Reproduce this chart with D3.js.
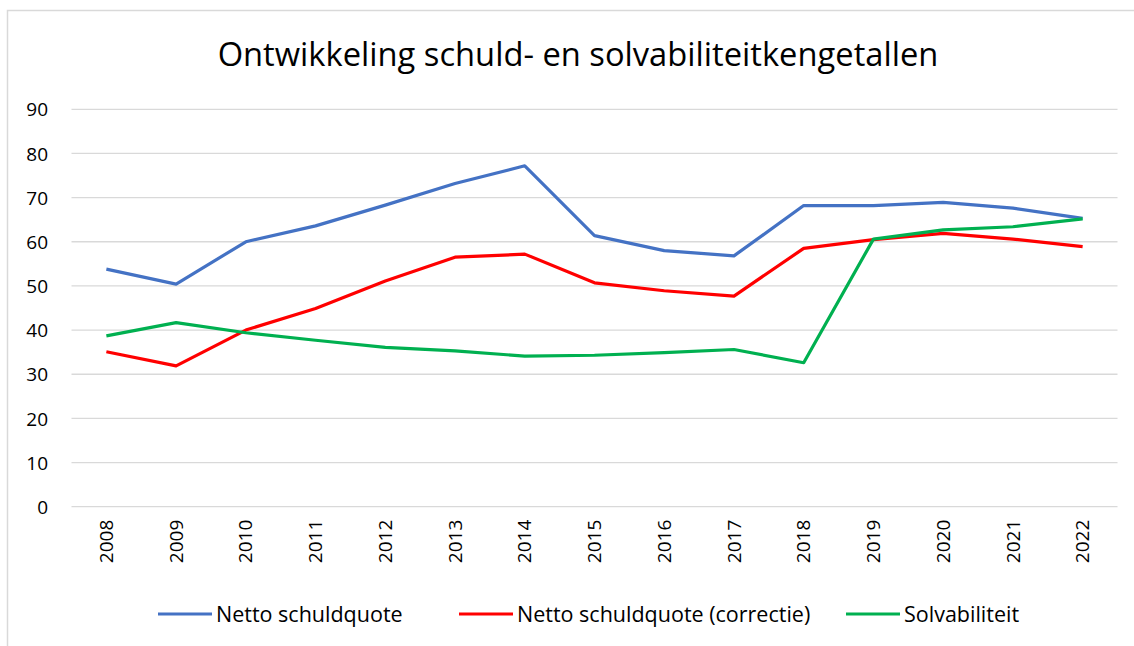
<!DOCTYPE html>
<html>
<head>
<meta charset="utf-8">
<script src="https://cdn.jsdelivr.net/npm/d3@7"></script>
<style>
  body { margin: 0; background: #fff; }
  svg text { font-family: "Open Sans", "Noto Sans", sans-serif; fill: #000; }
</style>
</head>
<body>
<div id="chart"></div>
<script>
// Data.
const years = ['2008', '2009', '2010', '2011', '2012', '2013', '2014', '2015',
    '2016', '2017', '2018', '2019', '2020', '2021', '2022'];
const nettoSchuldquote = [53.8, 50.4, 60.0, 63.6, 68.3, 73.2, 77.2, 61.4,
    58.0, 56.8, 68.2, 68.2, 68.9, 67.6, 65.3];
const nettoSchuldquoteCorrectie = [35.1, 31.9, 40.0, 44.9, 51.1, 56.5, 57.2, 50.7,
    48.9, 47.7, 58.5, 60.5, 61.9, 60.6, 58.9];
const solvabiliteit = [38.7, 41.7, 39.4, 37.7, 36.1, 35.3, 34.1, 34.3,
    34.9, 35.6, 32.6, 60.6, 62.7, 63.4, 65.2];
const yTicks = [0, 10, 20, 30, 40, 50, 60, 70, 80, 90];
const seriesNames = ['Netto schuldquote', 'Netto schuldquote (correctie)', 'Solvabiliteit'];
const seriesColors = ['#4472C4', '#FF0000', '#00B050'];
const title = 'Ontwikkeling schuld- en solvabiliteitkengetallen';

const series = [nettoSchuldquote, nettoSchuldquoteCorrectie, solvabiliteit];

const width = 1134, height = 646;
const plot = {left: 71.5, right: 1117.5, top: 109.3, bottom: 506.7};

const svg = d3.select('#chart').append('svg')
    .attr('width', width)
    .attr('height', height);

// Chart frame (only left and top edges are visible in the crop).
svg.append('rect')
    .attr('x', 7.5).attr('y', 10.5)
    .attr('width', width + 10).attr('height', height + 10)
    .attr('fill', '#fff')
    .attr('stroke', '#d9d9d9')
    .attr('stroke-width', 1.5);

// Title.
svg.append('text')
    .attr('x', 578).attr('y', 66)
    .attr('text-anchor', 'middle')
    .style('font-size', '32.7px')
    .text(title);

// Scales.
const x = d3.scaleBand()
    .domain(years)
    .range([plot.left, plot.right]);
const y = d3.scaleLinear()
    .domain([0, 90])
    .range([plot.bottom, plot.top]);

// Gridlines.
svg.append('g')
    .selectAll('line')
    .data(yTicks)
    .enter()
    .append('line')
    .attr('x1', plot.left).attr('x2', plot.right)
    .attr('y1', d => y(d)).attr('y2', d => y(d))
    .attr('stroke', '#d9d9d9')
    .attr('stroke-width', 1.3);

// Y axis labels.
const yAxis = d3.axisLeft(y).tickValues(yTicks).tickSize(0).tickPadding(0);
svg.append('g')
    .attr('transform', 'translate(48,0)')
    .call(yAxis)
    .call(g => g.select('.domain').remove())
    .selectAll('text')
    .style('font-size', '19px')
    .attr('font-family', null)
    .attr('dy', '0.35em');

// X axis labels (rotated).
const xAxis = d3.axisBottom(x).tickSize(0).tickPadding(0);
svg.append('g')
    .attr('transform', 'translate(0,' + plot.bottom + ')')
    .call(xAxis)
    .call(g => g.select('.domain').remove())
    .selectAll('text')
    .style('font-size', '19px')
    .attr('font-family', null)
    .attr('text-anchor', 'end')
    .attr('transform', 'rotate(-90)')
    .attr('x', -13)
    .attr('y', 0)
    .attr('dx', 0)
    .attr('dy', '0.35em');

// Lines.
const line = d3.line()
    .x((d, i) => x(years[i]) + x.bandwidth() / 2)
    .y(d => y(d));
svg.append('g')
    .selectAll('path')
    .data(series)
    .enter()
    .append('path')
    .attr('d', line)
    .attr('fill', 'none')
    .attr('stroke', (d, i) => seriesColors[i])
    .attr('stroke-width', 3.2)
    .attr('stroke-linejoin', 'round');

// Legend.
const legendX = [158, 459, 846];
const legend = svg.append('g')
    .selectAll('g')
    .data(seriesNames)
    .enter()
    .append('g')
    .attr('transform', (d, i) => 'translate(' + legendX[i] + ',614)');
legend.append('line')
    .attr('x1', 0).attr('x2', 54)
    .attr('stroke', (d, i) => seriesColors[i])
    .attr('stroke-width', 3.2);
legend.append('text')
    .attr('x', 58)
    .attr('dy', '0.35em')
    .style('font-size', '21.5px')
    .text(d => d);
</script>
</body>
</html>
